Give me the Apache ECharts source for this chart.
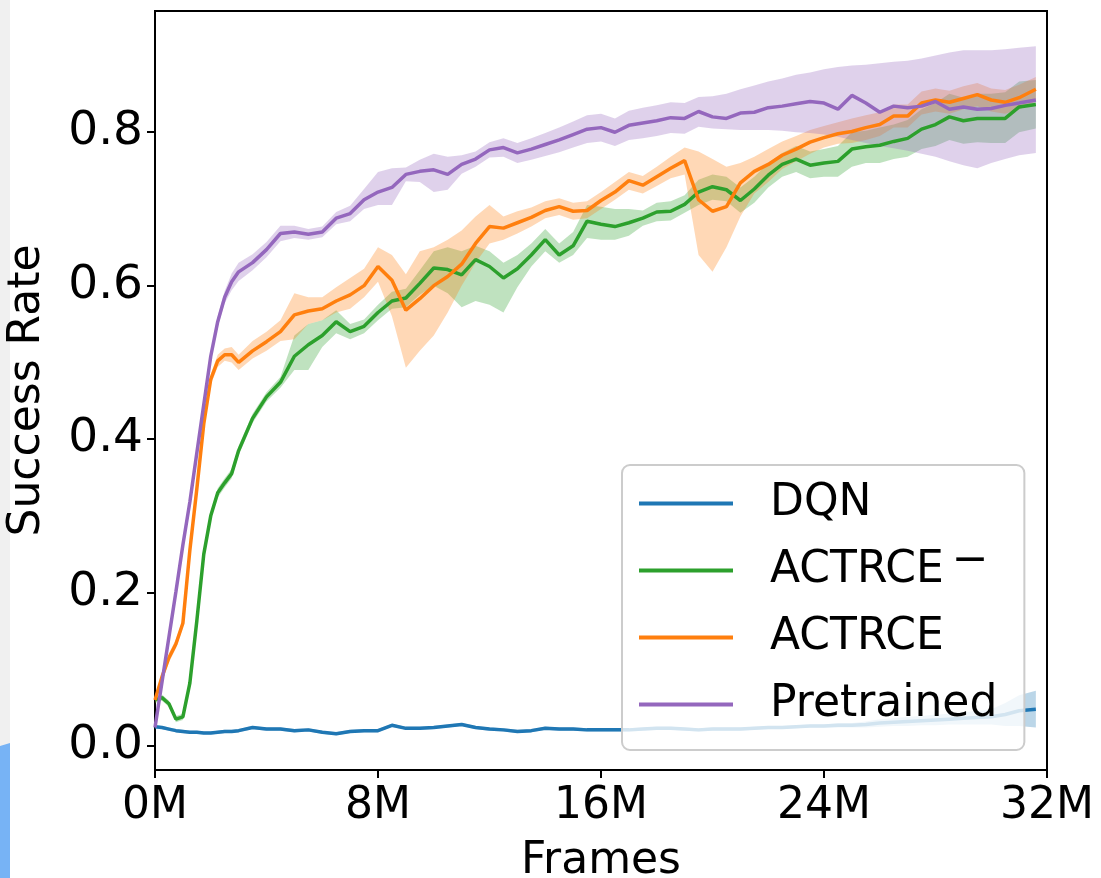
<!DOCTYPE html>
<html>
<head>
<meta charset="utf-8">
<script src="https://cdn.jsdelivr.net/npm/echarts@6/dist/echarts.min.js"></script>
<style>
html,body{margin:0;padding:0;background:#fff;}
#chart{width:1101px;height:878px;}
</style>
</head>
<body>
<div id="chart"></div>
<script>
// Frames (millions)
const frames = [0,0.25,0.5,0.75,1,1.25,1.5,1.75,2,2.25,2.5,2.75,3,3.5,4,4.5,5,5.5,6,6.5,7,7.5,8,8.5,9,9.5,10,10.5,11,11.5,12,12.5,13,13.5,14,14.5,15,15.5,16,16.5,17,17.5,18,18.5,19,19.5,20,20.5,21,21.5,22,22.5,23,23.5,24,24.5,25,25.5,26,26.5,27,27.5,28,28.5,29,29.5,30,30.5,31,31.6];

const seriesNames = ['DQN', 'ACTRCE-', 'ACTRCE', 'Pretrained'];
const xTickLabels = ['0M', '8M', '16M', '24M', '32M'];
const yTickValues = [0, 0.2, 0.4, 0.6, 0.8];

// DQN
const dqnMean = [0.025,0.024,0.022,0.020,0.019,0.018,0.018,0.017,0.017,0.018,0.019,0.019,0.020,
0.024,0.022,0.022,0.020,0.021,0.018,0.016,0.019,0.020,0.020,0.027,0.023,0.023,0.024,0.026,0.028,0.024,0.022,0.021,0.019,0.020,0.023,0.022,0.022,0.021,0.021,0.021,0.021,0.022,0.023,0.023,0.022,0.021,0.022,0.022,0.022,0.023,0.024,0.024,0.025,0.026,0.026,0.027,0.027,0.028,0.030,0.031,0.032,0.033,0.034,0.035,0.036,0.037,0.038,0.041,0.046,
0.048];
const dqnLo = [0.023,0.022,0.020,0.018,0.017,0.016,0.016,0.015,0.015,0.016,0.017,0.017,0.018,
0.022,0.020,0.020,0.018,0.019,0.016,0.014,0.017,0.018,0.018,0.025,0.021,0.021,0.022,0.024,0.026,0.022,0.020,0.019,0.017,0.018,0.021,0.020,0.020,0.019,0.019,0.019,0.019,0.020,0.021,0.021,0.020,0.019,0.020,0.020,0.020,0.021,0.022,0.022,0.023,0.024,0.024,
0.024,0.024,0.024,0.025,0.026,0.026,0.027,0.027,0.028,0.028,0.028,0.028,0.026,0.026,0.024];
const dqnHi = [0.027,0.026,0.024,0.022,0.021,0.020,0.020,0.019,0.019,0.020,0.021,0.021,0.022,
0.026,0.024,0.024,0.022,0.023,0.020,0.018,0.021,0.022,0.022,0.029,0.025,0.025,0.026,0.028,0.030,0.026,0.024,0.023,0.021,0.022,0.025,0.024,0.024,0.023,0.023,0.023,0.023,0.024,0.025,0.025,0.024,0.023,0.024,0.024,0.024,0.025,0.026,0.026,0.027,0.028,0.028,
0.030,0.030,0.032,0.035,0.036,0.038,0.039,0.041,0.042,0.044,0.046,0.048,0.056,0.066,0.072];

// ACTRCE- (green)
const actMinusMean = [0.060,0.063,0.055,0.035,0.038,0.082,0.163,0.250,0.300,0.330,0.343,0.355,0.385,
0.427,0.455,0.474,0.508,0.523,0.535,0.553,0.540,0.547,0.565,0.580,0.584,0.603,0.623,0.621,0.614,0.634,0.625,0.610,0.622,0.640,0.660,0.640,0.652,0.684,0.680,0.677,0.682,0.688,0.696,0.697,0.706,0.722,0.729,0.725,0.711,0.726,0.744,0.758,0.765,0.757,0.760,0.762,0.778,0.781,0.783,0.788,0.792,0.804,0.810,0.820,0.815,0.818,0.818,0.818,0.833,
0.836];
const actMinusLo = [0.056,0.059,0.051,0.031,0.034,0.078,0.159,0.246,0.296,0.324,0.337,0.349,0.379,
0.421,0.449,0.467,0.490,0.490,0.520,0.538,0.530,0.538,0.555,0.570,0.572,0.588,0.600,0.590,0.572,0.580,0.575,0.565,0.598,0.625,0.645,0.630,0.640,0.662,0.660,0.660,0.665,0.678,0.684,0.685,0.695,0.705,0.712,0.710,0.695,0.708,0.728,0.742,0.748,0.740,0.742,0.742,0.755,0.760,0.760,0.765,0.768,0.778,0.782,0.790,0.785,0.787,0.786,0.786,0.800,
0.805];
const actMinusHi = [0.064,0.067,0.059,0.039,0.042,0.086,0.167,0.254,0.304,0.336,0.349,0.361,0.391,
0.433,0.461,0.481,0.535,0.550,0.555,0.568,0.550,0.556,0.575,0.592,0.596,0.620,0.645,0.650,0.645,0.652,0.645,0.630,0.640,0.655,0.674,0.655,0.670,0.705,0.703,0.700,0.700,0.698,0.708,0.710,0.718,0.738,0.745,0.742,0.728,0.742,0.760,0.773,0.782,0.775,0.778,0.782,0.800,0.802,0.806,0.810,0.816,0.830,0.838,0.850,0.845,0.850,0.850,0.852,0.866,
0.868];

// ACTRCE (orange)
const actMean = [0.060,0.090,0.115,0.133,0.160,0.255,0.335,0.420,0.478,0.502,0.510,0.510,0.500,
0.515,0.527,0.540,0.562,0.567,0.570,0.580,0.588,0.600,0.625,0.607,0.568,0.583,0.600,0.612,0.628,0.655,0.677,0.675,0.682,0.689,0.698,0.703,0.697,0.698,0.711,0.722,0.737,0.731,0.742,0.753,0.763,0.712,0.697,0.703,0.734,0.749,0.758,0.770,0.778,0.787,0.793,0.798,0.801,0.806,0.810,0.821,0.821,0.838,0.842,0.839,0.844,0.849,0.842,0.839,0.845,
0.856];
const actLo = [0.055,0.084,0.109,0.127,0.154,0.249,0.329,0.414,0.471,0.494,0.502,0.500,0.490,
0.505,0.515,0.528,0.530,0.550,0.555,0.565,0.570,0.585,0.605,0.560,0.493,0.515,0.535,0.565,0.600,0.630,0.655,0.660,0.668,0.677,0.688,0.692,0.686,0.688,0.700,0.712,0.725,0.720,0.730,0.740,0.745,0.640,0.618,0.650,0.690,0.720,0.735,0.752,0.762,0.772,0.780,0.785,0.786,0.790,0.795,0.806,0.806,0.823,0.827,0.824,0.830,0.834,0.827,0.824,0.830,
0.840];
const actHi = [0.065,0.096,0.121,0.139,0.166,0.261,0.341,0.426,0.485,0.510,0.518,0.520,0.510,
0.528,0.540,0.555,0.590,0.585,0.585,0.598,0.610,0.622,0.650,0.640,0.615,0.645,0.650,0.660,0.672,0.690,0.705,0.690,0.697,0.702,0.710,0.714,0.708,0.710,0.722,0.735,0.748,0.743,0.755,0.768,0.780,0.775,0.765,0.755,0.760,0.768,0.778,0.788,0.795,0.803,0.808,0.813,0.818,0.822,0.826,0.836,0.836,0.853,0.857,0.854,0.860,0.864,0.857,0.855,0.862,
0.872];

// Pretrained (purple)
const preMean = [0.024,0.083,0.142,0.201,0.262,0.318,0.382,0.445,0.508,0.553,0.585,0.605,0.618,
0.630,0.647,0.668,0.670,0.667,0.670,0.688,0.694,0.712,0.722,0.728,0.745,0.749,0.751,0.745,0.758,0.765,0.777,0.780,0.773,0.778,0.784,0.790,0.797,0.804,0.806,0.800,0.809,0.812,0.815,0.819,0.818,0.827,0.820,0.818,0.825,0.826,0.832,0.834,0.837,0.840,0.838,0.830,0.848,0.838,0.826,0.834,0.832,0.834,0.840,0.830,0.833,0.830,0.831,0.835,0.838,
0.842];
const preLo = [0.020,0.078,0.136,0.195,0.256,0.312,0.376,0.439,0.502,0.546,0.577,0.594,0.606,
0.620,0.637,0.658,0.662,0.660,0.663,0.680,0.684,0.700,0.705,0.705,0.736,0.735,0.722,0.725,0.746,0.755,0.767,0.768,0.760,0.764,0.769,0.774,0.780,0.786,0.788,0.782,0.790,0.792,0.795,0.799,0.798,0.807,0.805,0.804,0.803,0.803,0.803,0.802,0.800,0.799,0.797,0.794,0.790,0.786,0.782,0.779,0.776,0.772,0.768,0.762,0.757,0.753,0.760,0.765,0.770,
0.773];
const preHi = [0.028,0.088,0.148,0.207,0.268,0.324,0.388,0.451,0.514,0.560,0.593,0.616,0.630,
0.641,0.657,0.678,0.678,0.674,0.677,0.696,0.704,0.726,0.748,0.753,0.754,0.764,0.772,0.768,0.770,0.775,0.787,0.792,0.786,0.792,0.799,0.806,0.814,0.822,0.824,0.818,0.828,0.832,0.835,0.839,0.838,0.846,0.847,0.850,0.856,0.861,0.866,0.870,0.875,0.878,0.882,0.885,0.887,0.888,0.890,0.892,0.893,0.896,0.900,0.904,0.907,0.907,0.907,0.908,0.910,
0.912];

const colors = ['#1f77b4', '#2ca02c', '#ff7f0e', '#9467bd'];
const bandColors = ['rgba(31,119,180,0.3)', 'rgba(44,160,44,0.3)', 'rgba(255,127,14,0.3)', 'rgba(148,103,189,0.3)'];

const means = [dqnMean, actMinusMean, actMean, preMean];
const los = [dqnLo, actMinusLo, actLo, preLo];
const his = [dqnHi, actMinusHi, actHi, preHi];

const FONT = 'DejaVu Sans';

function bandSeries(idx) {
  const lo = los[idx], hi = his[idx];
  return {
    type: 'custom',
    name: seriesNames[idx] + ' band',
    silent: true,
    z: 1,
    clip: true,
    data: frames.map((f, i) => [f, lo[i], hi[i]]),
    encode: { x: 0, y: [1, 2] },
    renderItem: function (params, api) {
      if (params.dataIndex !== 0) return null;
      const pts = [];
      for (let i = 0; i < frames.length; i++) pts.push(api.coord([frames[i], hi[i]]));
      for (let i = frames.length - 1; i >= 0; i--) pts.push(api.coord([frames[i], lo[i]]));
      return { type: 'polygon', shape: { points: pts }, style: { fill: bandColors[idx], stroke: null } };
    }
  };
}

function lineSeries(idx) {
  return {
    type: 'line',
    name: seriesNames[idx],
    z: 3,
    symbol: 'none',
    showSymbol: false,
    smooth: false,
    color: colors[idx],
    lineStyle: { width: 3.5, color: colors[idx] },
    data: frames.map((f, i) => [f, means[idx][i]])
  };
}

const series = [];
for (let i = 0; i < 4; i++) series.push(bandSeries(i));
for (let i = 0; i < 4; i++) series.push(lineSeries(i));

const chart = echarts.init(document.getElementById('chart'), null, { renderer: 'canvas' });
chart.setOption({
  animation: false,
  backgroundColor: '#ffffff',
  graphic: [
    { type: 'rect', left: 0, top: 0, z: -10, shape: { width: 10, height: 878 }, style: { fill: '#f0f0f0' } },
    { type: 'polygon', z: -9, shape: { points: [[0, 746], [10, 743], [10, 878], [0, 878]] }, style: { fill: '#77b3f5' } }
  ],
  grid: { left: 155, right: 54, top: 11, bottom: 108, outerBoundsMode: 'none', containLabel: false, show: true, borderColor: '#000', borderWidth: 2, backgroundColor: 'transparent' },
  xAxis: {
    type: 'value', min: 0, max: 32, interval: 8,
    axisLine: { show: true, onZero: false, lineStyle: { color: '#000', width: 2 } },
    axisTick: { show: true, length: 8, lineStyle: { color: '#000', width: 2 } },
    axisLabel: { formatter: function (v) { return xTickLabels[Math.round(v / 8)]; }, fontSize: 44, color: '#000', fontFamily: FONT, margin: 15 },
    splitLine: { show: false },
    name: 'Frames', nameLocation: 'middle', nameGap: 70,
    nameTextStyle: { fontSize: 44, color: '#000', fontFamily: FONT }
  },
  yAxis: {
    type: 'value', min: -0.0313, max: 0.958,
    axisLine: { show: true, lineStyle: { color: '#000', width: 2 } },
    axisTick: { show: true, customValues: yTickValues, length: 8, lineStyle: { color: '#000', width: 2 } },
    axisLabel: { customValues: yTickValues, formatter: function (v) { return v.toFixed(1); }, fontSize: 47, color: '#000', fontFamily: FONT, margin: 12 },
    splitLine: { show: false },
    name: 'Success Rate', nameLocation: 'middle', nameGap: 105,
    nameTextStyle: { fontSize: 44, color: '#000', fontFamily: FONT }
  },
  legend: {
    orient: 'vertical', left: 622, top: 465,
    data: seriesNames,
    icon: 'rect',
    itemWidth: 94, itemHeight: 4, itemGap: 0,
    padding: [5, 27, 12, 17],
    backgroundColor: 'rgba(255,255,255,0.8)', borderColor: '#cccccc', borderWidth: 2, borderRadius: 8,
    formatter: function (name) { return name === 'ACTRCE-' ? 'ACTRCE{s|\u2212}' : name; },
    textStyle: {
      fontFamily: FONT, fontSize: 44, color: '#000', lineHeight: 67, padding: [0, 0, 0, 32],
      rich: { s: { fontFamily: FONT, fontSize: 44, color: '#000', padding: [0, 0, 18, 8] } }
    },
    z: 10
  },
  series: series
});
</script>
</body>
</html>
